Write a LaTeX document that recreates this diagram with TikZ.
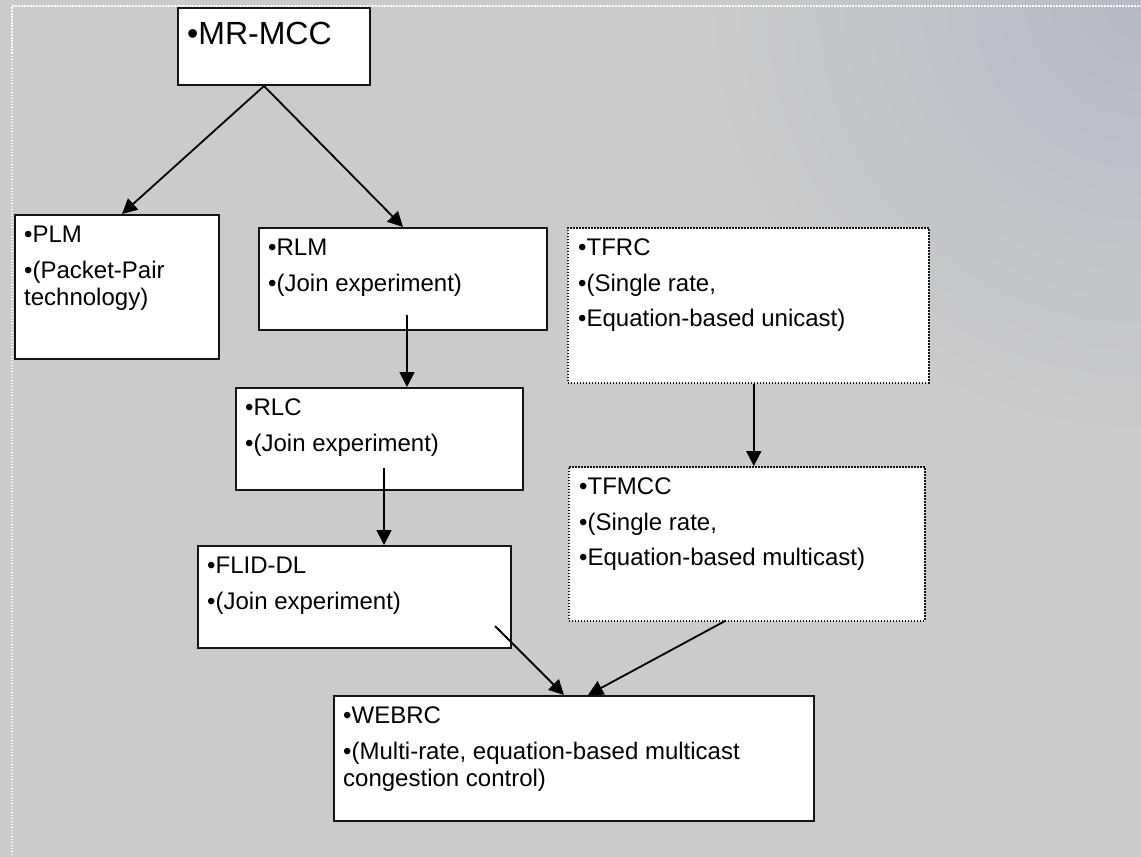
\documentclass[tikz,border=0pt]{standalone}
\usepackage{fontspec}
\setmainfont{Liberation Sans}
\usetikzlibrary{arrows.meta}
\definecolor{bggray}{RGB}{203,203,203}
\definecolor{bgblue}{RGB}{182,186,196}
\definecolor{boxline}{RGB}{20,20,20}
\tikzset{
  box/.style={draw=boxline,line width=2pt,fill=white,anchor=north west,inner sep=0pt},
  dotbox/.style={box,dash pattern=on 1.5pt off 1.5pt,line width=1.6pt},
  txt/.style={anchor=north west,align=left,inner sep=0pt,font=\fontsize{24}{27.5}\selectfont},
  arr/.style={line width=1.8pt,-{Triangle[length=15pt,width=15pt]}}
}
\begin{document}
\begin{tikzpicture}[x=1pt,y=-1pt]
\useasboundingbox (0,0) rectangle (1141,857);
\fill[bggray] (0,0) rectangle (1141,857);
\begin{scope}
\clip (0,0) rectangle (1141,857);
\shade[inner color=bgblue,outer color=bggray] (1141,0) circle (440);
\draw[white,line width=1.2pt,dash pattern=on 1.5pt off 1.5pt] (12,870) -- (12,6) -- (1150,6);
\end{scope}

% boxes
\node[box,minimum width=192pt,minimum height=77pt] (mrmcc) at (177,7) {};
\node[box,minimum width=204pt,minimum height=144pt] (plm) at (14,214) {};
\node[box,minimum width=288pt,minimum height=102pt] (rlm) at (258,227) {};
\node[dotbox,minimum width=361pt,minimum height=155pt] (tfrc) at (567,227) {};
\node[box,minimum width=287pt,minimum height=102pt] (rlc) at (235,387) {};
\node[dotbox,minimum width=356pt,minimum height=154pt] (tfmcc) at (568,466) {};
\node[box,minimum width=313pt,minimum height=102pt] (flid) at (197,545) {};
\node[box,minimum width=480pt,minimum height=125pt] (webrc) at (333,695) {};

% texts
\node[txt,font=\fontsize{32}{36}\selectfont] (mrmcct) at ([shift={(10,15)}]mrmcc.north west) {•MR-MCC};
\node[txt] (plmt) at ([shift={(10,12)}]plm.north west) {•PLM\\[8pt]•(Packet-Pair\\technology)};
\node[txt] (rlmt) at ([shift={(10,12)}]rlm.north west) {•RLM\\[8pt]•(Join experiment)};
\node[txt] (tfrct) at ([shift={(11,12)}]tfrc.north west) {•TFRC\\[8pt]•(Single rate,\\[8pt]•Equation-based unicast)};
\node[txt] (rlct) at ([shift={(10,12)}]rlc.north west) {•RLC\\[8pt]•(Join experiment)};
\node[txt] (tfmcct) at ([shift={(11,12)}]tfmcc.north west) {•TFMCC\\[8pt]•(Single rate,\\[8pt]•Equation-based multicast)};
\node[txt] (flidt) at ([shift={(10,12)}]flid.north west) {•FLID-DL\\[8pt]•(Join experiment)};
\node[txt] (webrct) at ([shift={(10,12)}]webrc.north west) {•WEBRC\\[8pt]•(Multi-rate, equation-based multicast\\congestion control)};

% arrows
\draw[arr] ([shift={(-10,0)}]mrmcc.south) -- ([shift={(5,0)}]plm.north);
\draw[arr] ([shift={(-10,0)}]mrmcc.south) -- (rlm.north);
\draw[arr] ([shift={(4,-16)}]rlm.south) coordinate (p1) -- (p1 |- rlc.north);
\draw[arr] ([shift={(4.5,-23)}]rlc.south) coordinate (p2) -- (p2 |- flid.north);
\draw[arr] ([shift={(5.5,0)}]tfrc.south) coordinate (p3) -- (p3 |- tfmcc.north);
\draw[arr] ([shift={(-17,-23)}]flid.south east) -- ([shift={(-10,0)}]webrc.north);
\draw[arr] ([shift={(-21,-1)}]tfmcc.south) -- ([shift={(14,0)}]webrc.north);
\end{tikzpicture}
\end{document}
